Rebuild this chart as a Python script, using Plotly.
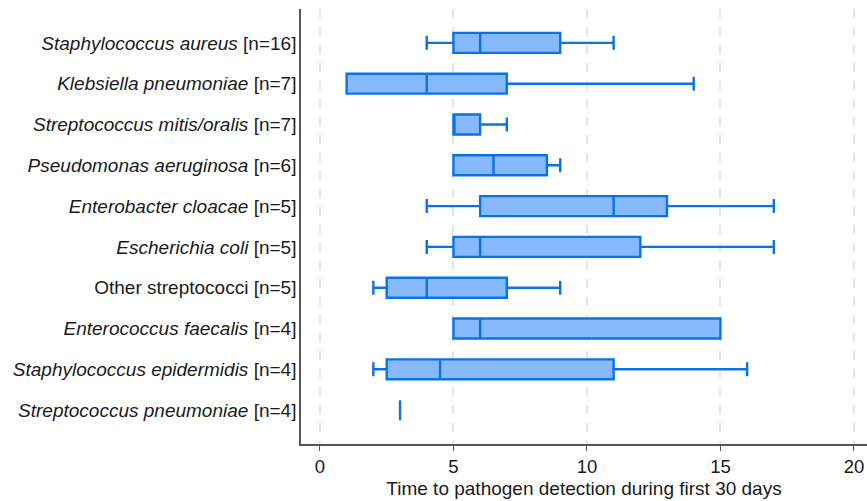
import plotly.graph_objects as go

categories = [
    "Staphylococcus aureus", "Klebsiella pneumoniae", "Streptococcus mitis/oralis",
    "Pseudomonas aeruginosa", "Enterobacter cloacae", "Escherichia coli",
    "Other streptococci", "Enterococcus faecalis", "Staphylococcus epidermidis",
    "Streptococcus pneumoniae",
]
tick_labels = [
    "<i>Staphylococcus aureus</i> [n=16]",
    "<i>Klebsiella pneumoniae</i> [n=7]",
    "<i>Streptococcus mitis/oralis</i> [n=7]",
    "<i>Pseudomonas aeruginosa</i> [n=6]",
    "<i>Enterobacter cloacae</i> [n=5]",
    "<i>Escherichia coli</i> [n=5]",
    "Other streptococci [n=5]",
    "<i>Enterococcus faecalis</i> [n=4]",
    "<i>Staphylococcus epidermidis</i> [n=4]",
    "<i>Streptococcus pneumoniae</i> [n=4]",
]
lower = [4, 1, 5, 5, 4, 4, 2, 5, 2, 3]
q1 = [5, 1, 5, 5, 6, 5, 2.5, 5, 2.5, 3]
median = [6, 4, 5, 6.5, 11, 6, 4, 6, 4.5, 3]
q3 = [9, 7, 6, 8.5, 13, 12, 7, 15, 11, 3]
upper = [11, 14, 7, 9, 17, 17, 9, 15, 16, 3]
x_ticks = [0, 5, 10, 15, 20]

fig = go.Figure()
fig.add_trace(go.Box(
    y=categories, q1=q1, median=median, q3=q3,
    lowerfence=lower, upperfence=upper,
    orientation="h",
    fillcolor="rgb(135,185,255)",
    line=dict(color="rgb(10,114,232)", width=2.4),
    whiskerwidth=0.7,
    width=0.49,
    boxpoints=False,
    hoverinfo="skip",
))

fig.update_layout(
    width=867, height=501,
    margin=dict(l=301, r=0, t=9, b=57),
    plot_bgcolor="white", paper_bgcolor="white",
    font=dict(family="Liberation Sans, Arial, sans-serif", color="#1a1a1a", size=19),
    showlegend=False,
)
fig.update_xaxes(
    range=[-0.71, 20.49], automargin=False,
    tickvals=x_ticks, ticktext=[str(v) for v in x_ticks],
    ticks="outside", ticklen=5, tickwidth=1.2, tickcolor="#555",
    showline=True, linecolor="#555", linewidth=1.5,
    showgrid=True, gridcolor="#e4e4e4", gridwidth=2, griddash="dash",
    zeroline=False,
    tickfont=dict(size=18.5),
    title=dict(text="Time to pathogen detection during first 30 days",
               font=dict(size=19), standoff=6),
)
fig.update_yaxes(
    categoryorder="array", categoryarray=categories,
    tickvals=categories, ticktext=tick_labels,
    range=[9.83, -0.83], automargin=False,
    showline=True, linecolor="#555", linewidth=1.5,
    showgrid=False, zeroline=False, ticks="",
    ticklabelstandoff=-1,
    tickfont=dict(size=19),
)

fig.write_html(
    "out.html",
    config={"displayModeBar": False},
    post_script="document.body.style.margin='0px';document.body.style.overflow='hidden';",
)
